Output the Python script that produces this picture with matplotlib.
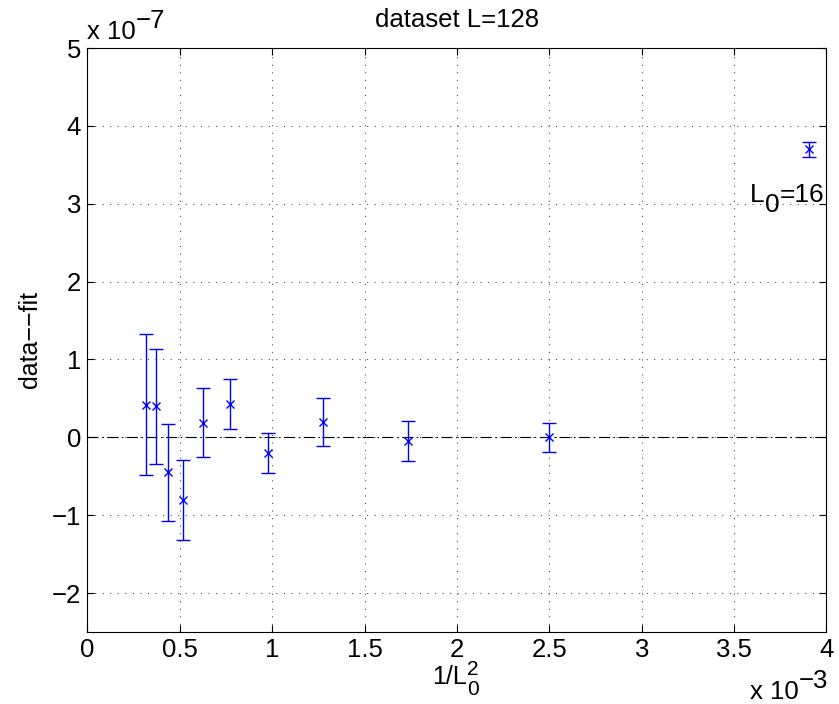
import matplotlib
matplotlib.use("Agg")
import matplotlib.pyplot as plt
import numpy as np
from matplotlib.transforms import offset_copy

plt.rcParams['font.family'] = ['Liberation Sans', 'DejaVu Sans']

# lattice sizes and residuals (data - fit), in units of 1e-7
L0 = [16, 20, 24, 28, 32, 36, 40, 44, 48, 52, 56]
resid = [3.70, 0.00, -0.047, 0.193, -0.20, 0.43, 0.19, -0.81, -0.45, 0.40, 0.42]
err = [0.095, 0.19, 0.253, 0.31, 0.253, 0.323, 0.44, 0.515, 0.625, 0.74, 0.905]

xticks = [0, 0.5, 1, 1.5, 2, 2.5, 3, 3.5, 4]
yticks = [-2, -1, 0, 1, 2, 3, 4, 5]

x = 1.0 / np.array(L0, dtype=float) ** 2
y = np.array(resid) * 1e-7
e = np.array(err) * 1e-7


def chain_text(fig, x0, y0, parts, transform, align='left'):
    """Draw text pieces one after another (MATLAB-style full-size sub/superscripts).
    parts: (string, fontsize, dy in pixels, advance)"""
    renderer = fig.canvas.get_renderer()
    widths = []
    for s, size, dy, adv in parts:
        t = fig.text(0, 0, s, fontsize=size)
        widths.append(t.get_window_extent(renderer).width if adv else 0)
        t.remove()
    dx = -sum(widths) if align == 'right' else 0
    for (s, size, dy, adv), w in zip(parts, widths):
        tr = offset_copy(transform, fig=fig, x=dx, y=dy, units='dots')
        fig.text(x0, y0, s, fontsize=size, transform=tr, ha='left', va='baseline')
        dx += w


fig = plt.figure(figsize=(8.39, 7.04), dpi=100)
ax = fig.add_axes([0.1041, 0.1023, 0.881, 0.8295])

ax.axhline(0, color='black', linestyle='-.', linewidth=0.8, dashes=(9.9, 3.2, 1.4, 3.2))
ax.errorbar(x, y, yerr=e, fmt='x', color='blue', ecolor='blue', markersize=6,
            capsize=4.7, elinewidth=1.0, capthick=1.0, markeredgewidth=1.0)

ax.set_xlim(0, 4e-3)
ax.set_ylim(-2.5e-7, 5e-7)
ax.set_xticks(np.array(xticks) * 1e-3)
ax.set_xticklabels(['%g' % v for v in xticks])
ax.set_yticks(np.array(yticks) * 1e-7)
ax.set_yticklabels(['%g' % v if v >= 0 else '\u2212%g' % -v for v in yticks])

ax.grid(True, linestyle=(0, (1, 5.8)), color='#505050', linewidth=0.8)
ax.tick_params(direction='in', length=5, width=0.8, top=True, right=True,
               labelsize=18.5, pad=4.5)
for s in ax.spines.values():
    s.set_linewidth(0.8)

ax.set_title('dataset L=128', fontsize=18.5, pad=15)
ax.set_ylabel('data\u2212\u2212fit', fontsize=18)
ax.yaxis.set_label_coords(-0.062, 0.5)

# L0=16 annotation
chain_text(fig, 0.9966, 0.7368,
           [('L', 19, 0, True), ('0', 19, -10, True), ('=16', 19, 0, True)],
           ax.transAxes, align='right')

# x label 1/L0^2
chain_text(fig, 432 / 839, 20 / 704,
           [('1/L', 18, 0, True), ('2', 15, 9, False), ('0', 15, -11, True)],
           fig.transFigure)

# exponent labels
chain_text(fig, 87 / 839, (704 - 39) / 704,
           [('x 10', 18.5, 0, True), ('\u22127', 18.5, 11, True)], fig.transFigure)
chain_text(fig, 828 / 839, (704 - 699) / 704,
           [('x 10', 18.5, 0, True), ('\u22123', 18.5, 11, True)], fig.transFigure,
           align='right')

fig.savefig('out.png', dpi=100)
